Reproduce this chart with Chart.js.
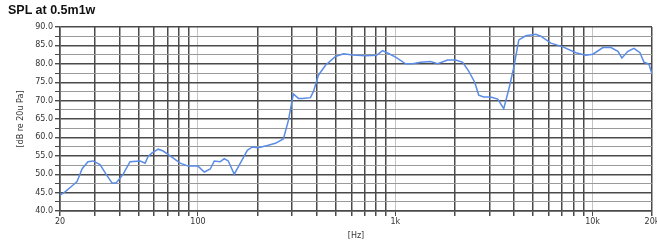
<!DOCTYPE html>
<html>
<head>
<meta charset="utf-8">
<script src="https://cdn.jsdelivr.net/npm/chart.js@4/dist/chart.umd.min.js"></script>
<style>
  html, body { margin: 0; padding: 0; background: #fff; }
  #wrap { position: relative; width: 657px; height: 241px; }
  #title { position: absolute; left: 8px; top: 3px; font: bold 12.5px "Liberation Sans", Arial, sans-serif; color: #111; }
</style>
</head>
<body>
<div id="wrap">
  <div id="title">SPL at 0.5m1w</div>
  <canvas id="spl" width="657" height="241"></canvas>
</div>
<script>
/* ── DATA ───────────────────────────────────── */
const freqs = [
    20, 21.2, 23, 24.4, 25.9, 27.7, 29.4, 31.9, 34.6, 36.7, 38.5, 41.8, 45.3, 51, 54, 55.9, 58.6, 62.9, 66.7, 72.3,
    81.3, 89.3, 100, 107.7, 115.5, 121, 129.8, 136, 142.5, 152.8, 164, 178, 188.6, 202, 224.8, 246.8, 271, 287,
    304.6, 323, 338, 371.6, 385, 408, 443, 498, 547, 607, 707, 804, 862, 924, 1004, 1128, 1224, 1344, 1510, 1640,
    1842, 2024, 2196, 2356, 2527, 2648, 2808, 3046, 3306, 3546, 3758, 3986, 4226, 4586, 5156, 5466, 6144, 7068,
    8230, 9248, 10036, 11280, 12390, 13440, 14080, 15100, 16200, 17380, 18220, 19310, 20000
];
const spl = [
    44.3, 45.2, 46.8, 48.0, 51.5, 53.4, 53.6, 52.6, 49.6, 47.6, 47.6, 50.0, 53.4, 53.6, 53.0, 54.8, 55.8, 56.8, 56.3, 55.0,
    53.0, 52.2, 52.2, 50.6, 51.4, 53.6, 53.4, 54.2, 53.6, 50.0, 53.0, 56.5, 57.4, 57.2, 57.8, 58.4, 59.6, 64.5,
    71.8, 70.6, 70.6, 70.8, 72.5, 76.9, 79.6, 82.0, 82.7, 82.4, 82.2, 82.3, 83.6, 82.8, 81.8, 80.0, 80.0, 80.4, 80.6, 80.0,
    81.0, 81.0, 80.4, 78.0, 75.0, 71.5, 71.0, 71.0, 70.4, 67.8, 73.0, 79.0, 86.5, 87.6, 88.0, 87.5, 85.6, 84.6,
    83.0, 82.3, 82.6, 84.4, 84.4, 83.4, 81.6, 83.4, 84.2, 83.0, 80.4, 79.9, 77.2
];

// vertical grid lines and their labels
const xGrid = [20, 30, 40, 50, 60, 70, 80, 90, 100, 200, 300, 400, 500, 600, 700, 800, 900,
               1000, 2000, 3000, 4000, 5000, 6000, 7000, 8000, 9000, 10000, 20000];
const xLabels = { 20: '20', 100: '100', 1000: '1k', 10000: '10k', 20000: '20k' };
const yMin = 40, yMax = 90, yStep = 2.5;

/* ── CHART ──────────────────────────────────── */
const dark  = '#4a4a4a';
const light = '#c4c4c4';
const tickFont = { family: 'DejaVu Sans', size: 8 };
const decades = [100, 1000, 10000];

new Chart(document.getElementById('spl'), {
    type: 'scatter',
    data: {
        datasets: [{
            data: freqs.map((f, i) => ({ x: f, y: spl[i] })),
            showLine: true,
            borderColor: '#5a8be6',
            borderWidth: 1.5,
            pointRadius: 0,
            tension: 0
        }]
    },
    options: {
        responsive: false,
        animation: false,
        layout: { padding: { left: 16, right: 5, top: 27, bottom: 0 } },
        plugins: { legend: { display: false }, tooltip: { enabled: false } },
        scales: {
            x: {
                type: 'logarithmic',
                min: 20, max: 20000,
                afterBuildTicks: s => { s.ticks = xGrid.map(v => ({ value: v })); },
                afterFit: s => { s.height = 30; s.paddingLeft = 0; s.paddingRight = 0; },
                ticks: {
                    autoSkip: false, maxRotation: 0, padding: 1,
                    color: '#333', font: tickFont,
                    callback: v => xLabels[v] || ''
                },
                grid: {
                    tickLength: 5,
                    color: c => decades.includes(c.tick && c.tick.value) ? light : dark,
                    lineWidth: c => decades.includes(c.tick && c.tick.value) ? 1 : 1.5,
                    tickColor: dark
                },
                border: { display: true, color: dark, width: 1.5 },
                title: { display: true, text: '[Hz]', color: '#333', font: tickFont, padding: { top: 2, bottom: 0 } }
            },
            y: {
                min: yMin, max: yMax,
                afterFit: s => { s.width = 44; s.paddingTop = 0; s.paddingBottom = 0; },
                ticks: {
                    stepSize: yStep, autoSkip: false, padding: 2,
                    color: '#333', font: tickFont,
                    callback: v => (v % 5 === 0 ? v.toFixed(1) : '')
                },
                grid: {
                    tickLength: 5,
                    color: c => (c.tick && c.tick.value % 5 === 0) ? dark : '#9a9a9a',
                    lineWidth: c => (c.tick && c.tick.value % 5 === 0) ? 1.4 : 1,
                    tickColor: dark
                },
                border: { display: true, color: dark, width: 1.5 },
                title: { display: true, text: '[dB re 20u Pa]', color: '#333', font: tickFont, padding: { top: 0, bottom: 2 } }
            }
        }
    }
});
</script>
</body>
</html>
